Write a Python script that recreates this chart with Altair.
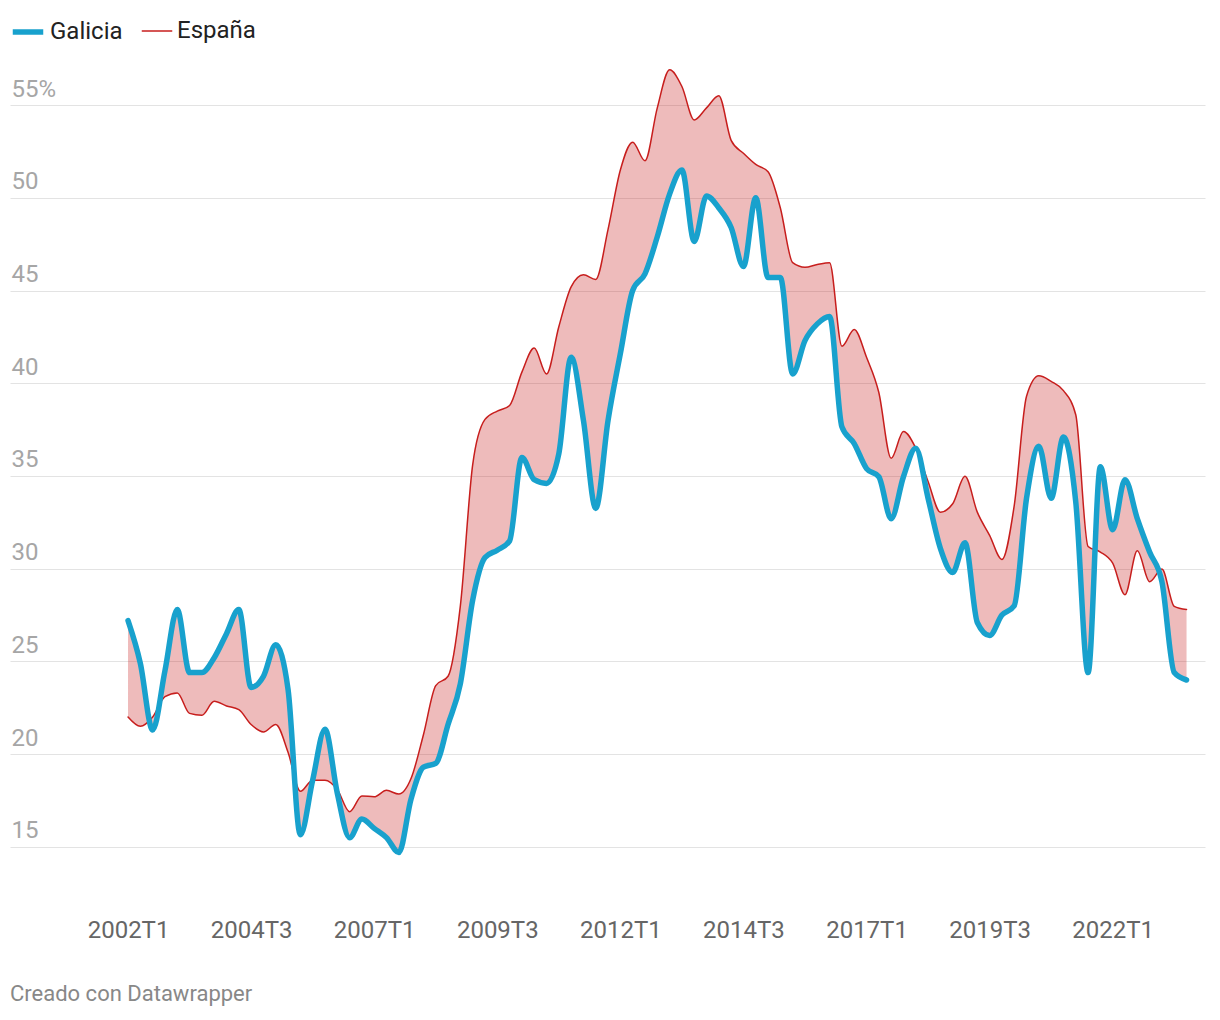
import altair as alt
import pandas as pd

# --- data -------------------------------------------------------------
periodos = [f"{2002 + i // 4}T{i % 4 + 1}" for i in range(87)]

galicia = [
    27.2, 24.9, 21.3, 24.5, 27.8, 24.4, 24.4, 25.2, 26.5, 27.8,
    23.6, 24.2, 25.9, 23.5, 15.65, 18.6, 21.35, 17.9, 15.5, 16.5,
    16.0, 15.5, 14.7, 17.6, 19.3, 19.5, 21.6, 23.8, 28.3, 30.6,
    31.0, 31.5, 36.0, 34.8, 34.6, 36.2, 41.4, 38.0, 33.25, 38.0,
    41.6, 45.0, 45.9, 47.9, 50.2, 51.5, 47.65, 50.1, 49.45, 48.4,
    46.3, 50.0, 45.7, 45.7, 40.5, 42.3, 43.2, 43.6, 37.65, 36.75,
    35.4, 34.96, 32.7, 34.96, 36.5, 33.8, 31.1, 29.8, 31.4, 27.1,
    26.4, 27.5, 28.0, 33.8, 36.6, 33.8, 37.1, 33.6, 24.4, 35.5,
    32.1, 34.8, 32.7, 30.9, 29.3, 24.4, 24.0,
]

espana = [
    22.0, 21.5, 22.0, 23.1, 23.3, 22.2, 22.1, 22.85, 22.6, 22.4,
    21.6, 21.2, 21.6, 20.1, 18.0, 18.6, 18.6, 18.1, 16.9, 17.75,
    17.7, 18.05, 17.85, 18.7, 21.05, 23.7, 24.2, 28.0, 35.6, 38.05,
    38.5, 38.8, 40.6, 41.9, 40.5, 43.05, 45.2, 45.85, 45.6, 48.3,
    51.5, 53.0, 52.0, 54.85, 56.9, 56.0, 54.2, 54.85, 55.5, 53.1,
    52.4, 51.8, 51.4, 49.45, 46.5, 46.25, 46.4, 46.5, 42.0, 42.9,
    41.4, 39.5, 35.95, 37.4, 36.5, 34.7, 33.05, 33.5, 34.98, 33.05,
    31.8, 30.5, 33.4, 39.3, 40.4, 40.1, 39.6, 38.3, 31.2, 30.9,
    30.3, 28.6, 30.97, 29.3, 29.98, 27.97, 27.8,
]

tick_labels = ["2002T1", "2004T3", "2007T1", "2009T3", "2012T1",
               "2014T3", "2017T1", "2019T3", "2022T1"]
y_ticks = [15, 20, 25, 30, 35, 40, 45, 50, 55]
series = ["Galicia", "España"]
colors = ["#18a1cd", "#c71e1d"]
widths = [5.5, 1.5]

tick_idx = [periodos.index(t) for t in tick_labels]

wide = pd.DataFrame({"t": list(range(len(periodos))), "periodo": periodos,
                     "gal": galicia, "esp": espana})
long = pd.concat([
    pd.DataFrame({"t": wide["t"], "periodo": periodos, "serie": "Galicia", "valor": galicia}),
    pd.DataFrame({"t": wide["t"], "periodo": periodos, "serie": "España", "valor": espana}),
])

# --- scales / axes ------------------------------------------------------
FONT = "Roboto"
label_expr_x = ("[" + ",".join(f"'{t}'" for t in tick_labels) + "]"
                "[indexof([" + ",".join(str(v) for v in tick_idx) + "], datum.value)]")

x_enc = alt.X(
    "t:Q",
    title=None,
    scale=alt.Scale(domain=[-9.59, 87.5], nice=False, zero=False),
    axis=alt.Axis(values=tick_idx, labelExpr=label_expr_x, grid=False, domain=False,
                  ticks=False, labelFont=FONT, labelFontSize=24, labelColor="#666666",
                  labelPadding=34, labelFlush=False),
)

y_scale = alt.Scale(domain=[13, 57.43], nice=False, zero=False)
y_axis = alt.Axis(values=y_ticks, labelExpr="datum.value == 55 ? datum.label + '%' : datum.label",
                  grid=True, gridColor="#e3e3e3", gridWidth=1, domain=False, ticks=False,
                  labelAlign="left", labelBaseline="alphabetic", labelPadding=-1,
                  labelOffset=-9, labelFont=FONT, labelFontSize=24, labelColor="#a6a6a6")

legend = alt.Legend(title=None, orient="none", legendX=0, legendY=-46, direction="horizontal",
                    symbolType="stroke", symbolSize=930, labelFont=FONT, labelFontSize=24,
                    labelColor="#222222", columnPadding=15, labelOffset=4, padding=0)

# --- layers -------------------------------------------------------------
area = alt.Chart(wide).mark_area(interpolate="monotone", color="#c71e1d", opacity=0.3).encode(
    x=x_enc,
    y=alt.Y("esp:Q", scale=y_scale, axis=y_axis, title=None),
    y2="gal:Q",
)

base = alt.Chart(long).mark_line(interpolate="monotone", strokeCap="round", strokeJoin="round").encode(
    x=x_enc,
    y=alt.Y("valor:Q", scale=y_scale, axis=y_axis, title=None),
    color=alt.Color("serie:O", scale=alt.Scale(domain=series, range=colors), legend=legend),
    strokeWidth=alt.StrokeWidth("serie:O", scale=alt.Scale(type="point", domain=series, range=widths, padding=0), legend=legend),
)

esp_line = base.transform_filter(alt.datum.serie == "España")
gal_line = base.transform_filter(alt.datum.serie == "Galicia")

chart = alt.layer(area, esp_line, gal_line).properties(
    width=1195,
    height=824,
    autosize=alt.AutoSizeParams(type="none"),
    padding={"left": 2, "top": 52, "right": 2, "bottom": 124},
    title=alt.TitleParams("Creado con Datawrapper", orient="bottom", anchor="start", frame="group",
                          font=FONT, fontSize=22, fontWeight="normal", color="#888888", offset=42),
).configure(background="white").configure_view(stroke=None)

chart.save("out.html", embed_options={"renderer": "svg", "actions": False})
